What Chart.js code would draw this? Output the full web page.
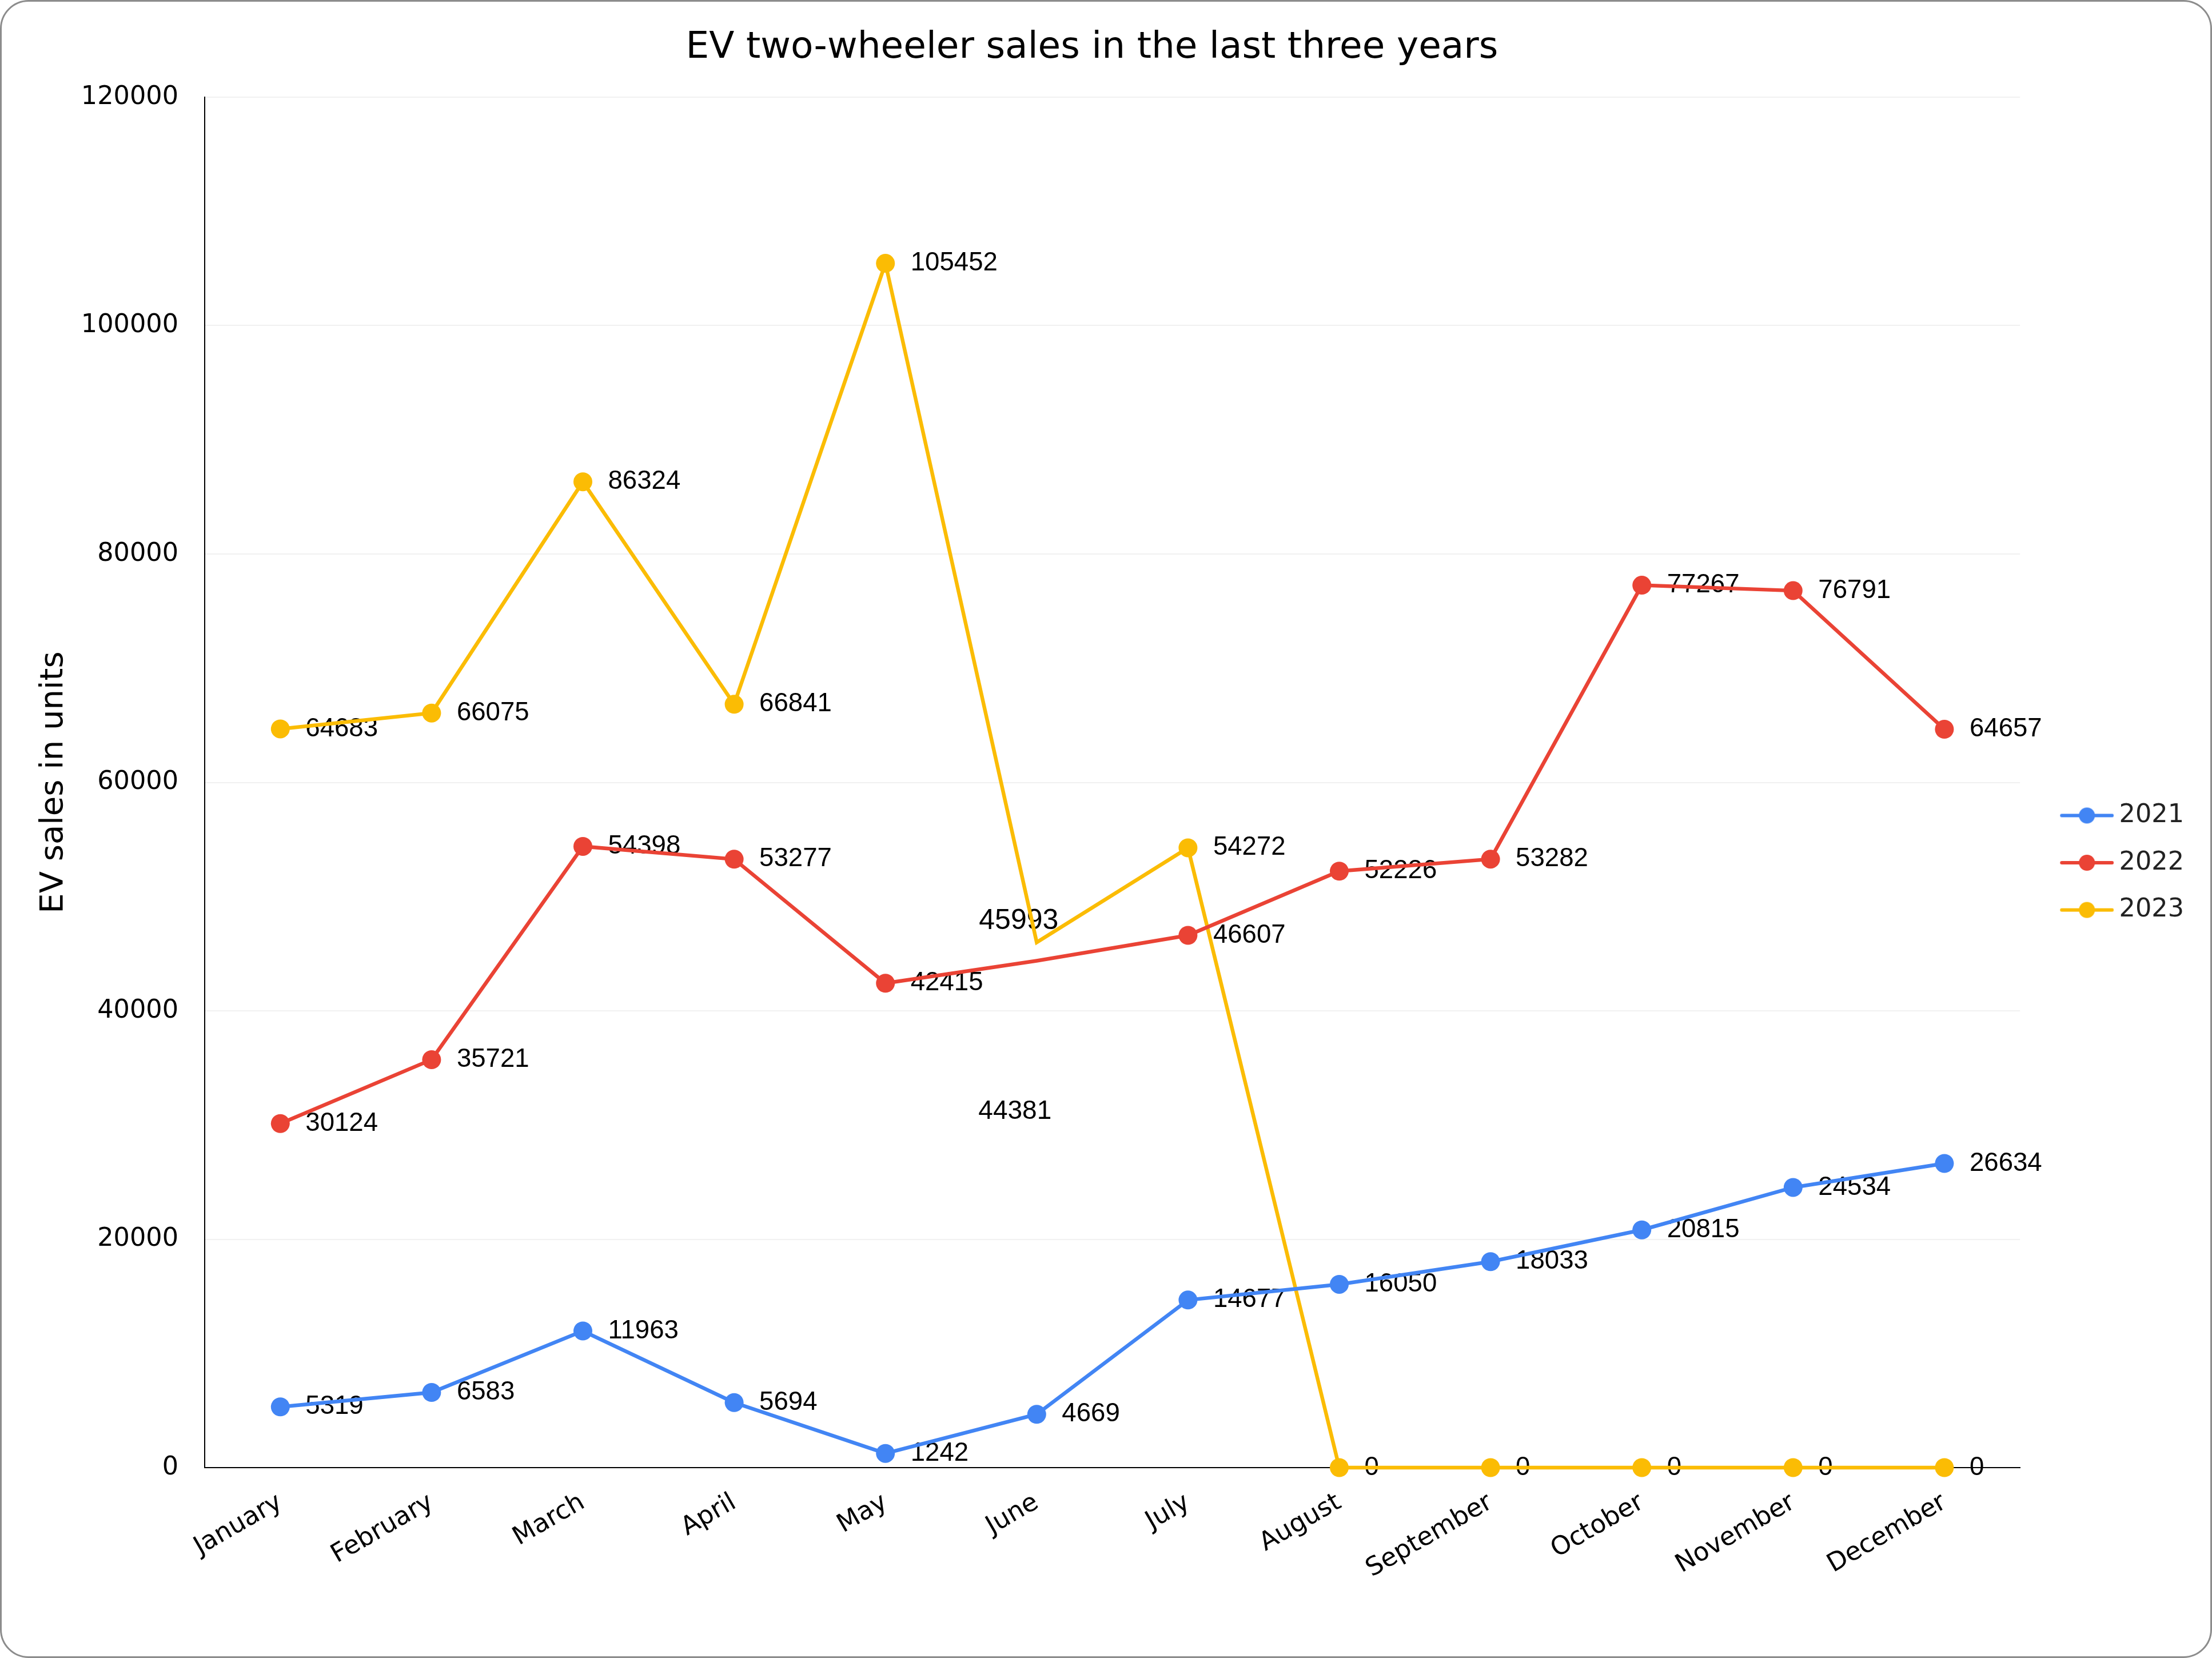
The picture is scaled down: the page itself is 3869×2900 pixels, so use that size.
<!DOCTYPE html>
<html>
<head>
<meta charset="utf-8">
<title>EV two-wheeler sales</title>
<script src="https://cdn.jsdelivr.net/npm/chart.js@4.4.0/dist/chart.umd.min.js"></script>
<style>
  html, body { margin: 0; padding: 0; background: #fff; }
  #frame {
    position: absolute; left: 0; top: 0;
    width: 3869px; height: 2900px;
    box-sizing: border-box;
    border: 3px solid #8c8c8c;
    border-radius: 50px;
  }
  #chart { position: absolute; left: 0; top: 0; }
</style>
</head>
<body>
<div id="frame"></div>
<canvas id="chart" width="3869" height="2900"></canvas>
<script>
// Data
const months = ['January', 'February', 'March', 'April', 'May', 'June',
    'July', 'August', 'September', 'October', 'November', 'December'];
const years = ['2021', '2022', '2023'];
const sales2021 = [5319, 6583, 11963, 5694, 1242, 4669, 14677, 16050, 18033, 20815, 24534, 26634];
const sales2022 = [30124, 35721, 54398, 53277, 42415, 44381, 46607, 52226, 53282, 77267, 76791, 64657];
const sales2023 = [64683, 66075, 86324, 66841, 105452, 45993, 54272, 0, 0, 0, 0, 0];
const yMax = 120000;
const yStep = 20000;

const colors = ['#4285F4', '#EA4335', '#FBBC04'];

// June markers of 2022 and 2023 are not drawn in the reference,
// and their value labels sit away from the point
const hiddenMarkers = { 1: [5], 2: [5] };
const labelShifts = {
    '1-5': { dx: -102, dy: 264, size: 46 },
    '2-5': { dx: -101, dy: -37, size: 50 }
};

const DEJAVU = "'DejaVu Sans', Verdana, sans-serif";
const ARIAL = "'Liberation Sans', Arial, sans-serif";

// legend marker: short line with a dot in the middle
function makeMarker(color) {
    const c = document.createElement('canvas');
    c.width = 149;
    c.height = 32;
    const g = c.getContext('2d');
    g.strokeStyle = color;
    g.lineWidth = 6;
    g.lineCap = 'round';
    g.beginPath();
    g.moveTo(58, 16);
    g.lineTo(146, 16);
    g.stroke();
    g.fillStyle = color;
    g.beginPath();
    g.arc(102, 16, 14, 0, Math.PI * 2);
    g.fill();
    return c;
}

const valueLabels = {
    id: 'valueLabels',
    beforeDatasetsDraw(chart) {
        const ctx = chart.ctx;
        ctx.save();
        ctx.fillStyle = '#000';
        ctx.textAlign = 'left';
        ctx.textBaseline = 'middle';
        chart.data.datasets.forEach((ds, i) => {
            const meta = chart.getDatasetMeta(i);
            meta.data.forEach((pt, j) => {
                const s = labelShifts[i + '-' + j] || { dx: 44, dy: 0, size: 45.6 };
                ctx.font = s.size + 'px ' + ARIAL;
                ctx.fillText(String(ds.data[j]), pt.x + s.dx, pt.y + s.dy);
            });
        });
        ctx.restore();
    }
};

const seriesData = [sales2021, sales2022, sales2023];

const datasets = years.map((year, i) => ({
    label: year,
    data: seriesData[i],
    borderColor: colors[i],
    backgroundColor: colors[i],
    borderWidth: 6.5,
    pointRadius: ctx => (hiddenMarkers[i] || []).includes(ctx.dataIndex) ? 0 : 16.5,
    pointHoverRadius: 16.5,
    pointBorderWidth: 0,
    tension: 0,
    clip: false
}));

new Chart(document.getElementById('chart'), {
    type: 'line',
    data: { labels: months, datasets: datasets },
    plugins: [valueLabels],
    options: {
        responsive: false,
        animation: false,
        events: [],
        layout: { padding: { top: 0, left: 0, bottom: 0, right: 49 } },
        plugins: {
            title: {
                display: true,
                text: 'EV two-wheeler sales in the last three years',
                color: '#000',
                font: { family: DEJAVU, size: 64.5, weight: 'normal' },
                padding: { top: 46, bottom: 46.6 }
            },
            legend: {
                position: 'right',
                title: { display: true, text: '', font: { size: 10, lineHeight: 1 }, padding: { top: 0, bottom: 108 } },
                labels: {
                    usePointStyle: true,
                    pointStyleWidth: 103,
                    padding: 38,
                    textAlign: 'right',
                    color: '#222',
                    font: { family: DEJAVU, size: 44.6 },
                    generateLabels(chart) {
                        return chart.data.datasets.map((ds, i) => ({
                            text: ds.label,
                            fillStyle: colors[i],
                            strokeStyle: colors[i],
                            lineWidth: 0,
                            pointStyle: makeMarker(colors[i]),
                            fontColor: '#222',
                            hidden: false,
                            datasetIndex: i
                        }));
                    }
                }
            },
            tooltip: { enabled: false }
        },
        scales: {
            x: {
                offset: true,
                afterFit(scale) { scale.height = 333; },
                grid: { display: false, drawTicks: false },
                border: { display: true, color: '#000', width: 2 },
                ticks: {
                    autoSkip: false,
                    minRotation: 30,
                    maxRotation: 30,
                    padding: 35,
                    color: '#000',
                    font: { family: DEJAVU, size: 44.6 }
                }
            },
            y: {
                min: 0,
                max: yMax,
                afterFit(scale) { scale.width = 358; },
                grid: { color: '#f1f1f1', lineWidth: 2, drawTicks: false },
                border: { display: true, color: '#000', width: 2 },
                ticks: {
                    stepSize: yStep,
                    padding: 46,
                    color: '#000',
                    font: { family: DEJAVU, size: 44.6 },
                    callback: v => String(v)
                },
                title: {
                    display: true,
                    text: 'EV sales in units',
                    color: '#000',
                    font: { family: DEJAVU, size: 56 },
                    padding: { top: 61, bottom: 0 }
                }
            }
        }
    }
});
</script>
</body>
</html>
